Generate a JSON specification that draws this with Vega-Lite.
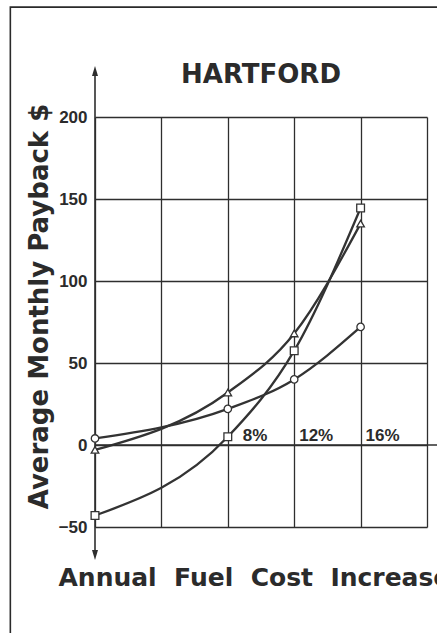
{
  "$schema": "https://vega.github.io/schema/vega-lite/v6.json",
  "autosize": "none",
  "width": 332,
  "height": 410,
  "padding": {"left": 95, "top": 117, "right": 10, "bottom": 106},
  "background": "#ffffff",
  "config": {"view": {"stroke": null}, "font": "Liberation Sans"},
  "title": {
    "text": "HARTFORD",
    "font": "DejaVu Sans",
    "fontSize": 26,
    "fontWeight": "bold",
    "color": "#2b2b2b",
    "anchor": "middle",
    "frame": "group",
    "baseline": "alphabetic",
    "offset": -103
  },
  "datasets": {
    "payback": [
      {"increase": 0, "payback": -43, "series": "A"},
      {"increase": 8, "payback": 5, "series": "A"},
      {"increase": 12, "payback": 57.5, "series": "A"},
      {"increase": 16, "payback": 144.5, "series": "A"},
      {"increase": 0, "payback": -3, "series": "B"},
      {"increase": 8, "payback": 32, "series": "B"},
      {"increase": 12, "payback": 68, "series": "B"},
      {"increase": 16, "payback": 135, "series": "B"},
      {"increase": 0, "payback": 4, "series": "C"},
      {"increase": 8, "payback": 22, "series": "C"},
      {"increase": 12, "payback": 40, "series": "C"},
      {"increase": 16, "payback": 72, "series": "C"}
    ],
    "pctlabels": [
      {"increase": 8, "label": "8%"},
      {"increase": 12, "label": "12%"},
      {"increase": 16, "label": "16%"}
    ]
  },
  "layer": [
    {
      "data": {"name": "payback"},
      "mark": {"type": "line", "interpolate": "monotone", "strokeWidth": 2.3, "color": "#333333"},
      "encoding": {
        "x": {
          "field": "increase",
          "type": "quantitative",
          "scale": {"domain": [0, 20], "nice": false, "zero": false},
          "axis": {
            "orient": "bottom",
            "values": [0, 4, 8, 12, 16, 20],
            "grid": true,
            "gridColor": "#2e2e2e",
            "gridWidth": 1.3,
            "gridOpacity": 1,
            "labels": false,
            "ticks": false,
            "domain": false,
            "title": "Annual\u00a0\u00a0Fuel\u00a0\u00a0Cost\u00a0\u00a0Increase",
            "titleFont": "DejaVu Sans",
            "titleFontSize": 25,
            "titleFontWeight": "bold",
            "titleColor": "#2b2b2b",
            "titleX": -37,
            "titleY": 58,
            "titleAlign": "left",
            "titleAnchor": "start",
            "titleBaseline": "alphabetic",
            "titleLimit": 1000
          }
        },
        "y": {
          "field": "payback",
          "type": "quantitative",
          "scale": {"domain": [-50, 200], "nice": false, "zero": false},
          "axis": {
            "orient": "left",
            "values": [-50, 0, 50, 100, 150, 200],
            "grid": true,
            "gridColor": "#2e2e2e",
            "gridWidth": 1.3,
            "gridOpacity": 1,
            "ticks": false,
            "domain": false,
            "labelFont": "Liberation Sans",
            "labelFontSize": 17,
            "labelFontWeight": "bold",
            "labelColor": "#2b2b2b",
            "labelPadding": 8,
            "title": "Average Monthly Payback $",
            "titleFont": "DejaVu Sans",
            "titleFontSize": 26,
            "titleFontWeight": "bold",
            "titleColor": "#2b2b2b",
            "titleAngle": -90,
            "titleX": -48,
            "titleY": 189,
            "titleAlign": "center",
            "titleBaseline": "alphabetic",
            "titleLimit": 1000
          }
        },
        "detail": {"field": "series", "type": "nominal"}
      }
    },
    {
      "data": {"values": [{}]},
      "mark": {"type": "rule", "color": "#2e2e2e", "strokeWidth": 1.6},
      "encoding": {
        "y": {"datum": 0},
        "x": {"datum": 0},
        "x2": {"datum": 21}
      }
    },
    {
      "data": {"values": [{}]},
      "mark": {"type": "rule", "color": "#2e2e2e", "strokeWidth": 1.6},
      "encoding": {
        "x": {"datum": 0},
        "y": {"datum": -67},
        "y2": {"datum": 228}
      }
    },
    {
      "data": {"values": [{}]},
      "mark": {"type": "point", "shape": "M0,-1L-0.6,1L0.6,1Z", "filled": true, "color": "#2e2e2e", "opacity": 1, "size": 100},
      "encoding": {"x": {"datum": 0}, "y": {"datum": 228}}
    },
    {
      "data": {"values": [{}]},
      "mark": {"type": "point", "shape": "M0,1L-0.6,-1L0.6,-1Z", "filled": true, "color": "#2e2e2e", "opacity": 1, "size": 100},
      "encoding": {"x": {"datum": 0}, "y": {"datum": -67}}
    },
    {
      "data": {"values": [{}]},
      "mark": {"type": "rect", "fill": null, "fillOpacity": 0, "stroke": "#2a2a2a", "strokeWidth": 1.6},
      "encoding": {
        "x": {"datum": -5.1},
        "x2": {"datum": 25},
        "y": {"datum": 267},
        "y2": {"datum": -130}
      }
    },
    {
      "data": {"name": "payback"},
      "mark": {"type": "point", "filled": true, "fill": "#ffffff", "stroke": "#333333", "strokeWidth": 1.3, "opacity": 1},
      "encoding": {
        "x": {"field": "increase", "type": "quantitative"},
        "y": {"field": "payback", "type": "quantitative"},
        "shape": {
          "field": "series",
          "type": "nominal",
          "scale": {"domain": ["A", "B", "C"], "range": ["square", "triangle-up", "circle"]},
          "legend": null
        },
        "size": {
          "field": "series",
          "type": "nominal",
          "scale": {"domain": ["A", "B", "C"], "range": [60, 55, 100]},
          "legend": null
        }
      }
    },
    {
      "data": {"name": "pctlabels"},
      "transform": [{"filter": "datum.increase == 8"}],
      "mark": {"type": "text", "align": "left", "baseline": "alphabetic", "dx": 15, "dy": -4, "font": "Liberation Sans", "fontSize": 17, "fontWeight": "bold", "color": "#2b2b2b"},
      "encoding": {
        "x": {"field": "increase", "type": "quantitative"},
        "y": {"datum": 0},
        "text": {"field": "label", "type": "nominal"}
      }
    },
    {
      "data": {"name": "pctlabels"},
      "transform": [{"filter": "datum.increase != 8"}],
      "mark": {"type": "text", "align": "left", "baseline": "alphabetic", "dx": 5, "dy": -4, "font": "Liberation Sans", "fontSize": 17, "fontWeight": "bold", "color": "#2b2b2b"},
      "encoding": {
        "x": {"field": "increase", "type": "quantitative"},
        "y": {"datum": 0},
        "text": {"field": "label", "type": "nominal"}
      }
    }
  ]
}
